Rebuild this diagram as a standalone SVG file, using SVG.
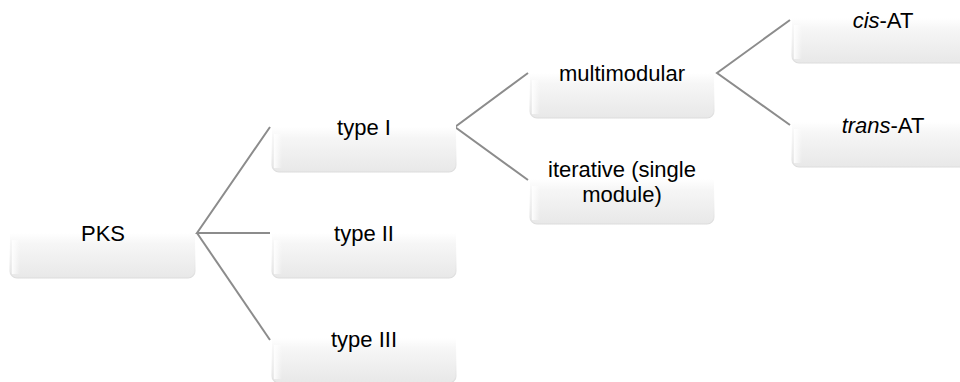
<svg xmlns="http://www.w3.org/2000/svg" width="960" height="382" viewBox="0 0 960 382">
  <defs>
    <linearGradient id="boxFill" x1="0" y1="0" x2="0" y2="1">
      <stop offset="0" stop-color="#ffffff"/>
      <stop offset="0.5" stop-color="#ffffff"/>
      <stop offset="0.62" stop-color="#f6f6f6"/>
      <stop offset="1" stop-color="#e8e8e8"/>
    </linearGradient>
    <linearGradient id="boxEdge" x1="0" y1="0" x2="0" y2="1">
      <stop offset="0" stop-color="#ffffff" stop-opacity="0"/>
      <stop offset="0.55" stop-color="#ffffff" stop-opacity="0"/>
      <stop offset="1" stop-color="#dcdcdc" stop-opacity="1"/>
    </linearGradient>
    <linearGradient id="sideGlow" x1="0" y1="0" x2="1" y2="0">
      <stop offset="0" stop-color="#ffffff" stop-opacity="0.9"/>
      <stop offset="1" stop-color="#ffffff" stop-opacity="0"/>
    </linearGradient>
  </defs>
  <style>
    .box { fill: url(#boxFill); stroke: url(#boxEdge); stroke-width: 1.2; }
    .glow { fill: url(#sideGlow); }
    .lbl { font-family: "Liberation Sans", Arial, sans-serif; font-size: 22px; fill: #000000; text-anchor: middle; }
    .conn { stroke: #8c8c8c; stroke-width: 2; fill: none; }
  </style>
  <rect width="960" height="382" fill="#ffffff"/>

  <g id="connectors">
    <polyline class="conn" points="270,127 197,233 270,233"/>
    <polyline class="conn" points="197,233 270,340"/>
    <polyline class="conn" points="528,73 455,127 528,180"/>
    <polyline class="conn" points="790,20 717,73 790,125"/>
  </g>

  <g id="node-pks">
    <rect class="box" x="10" y="188" width="185" height="90" rx="7"/>
    <rect class="glow" x="12" y="240" width="8" height="34"/>
    <text class="lbl" x="103" y="241">PKS</text>
  </g>
  <g id="node-type1">
    <rect class="box" x="272" y="82" width="184" height="90" rx="7"/>
    <rect class="glow" x="274" y="134" width="8" height="34"/>
    <text class="lbl" x="364" y="135">type I</text>
  </g>
  <g id="node-type2">
    <rect class="box" x="272" y="188" width="184" height="90" rx="7"/>
    <rect class="glow" x="274" y="240" width="8" height="34"/>
    <text class="lbl" x="364" y="241">type II</text>
  </g>
  <g id="node-type3">
    <rect class="box" x="272" y="293" width="184" height="90" rx="7"/>
    <rect class="glow" x="274" y="345" width="8" height="34"/>
    <text class="lbl" x="364" y="347">type III</text>
  </g>
  <g id="node-multimodular">
    <rect class="box" x="530" y="28" width="184" height="90" rx="7"/>
    <rect class="glow" x="532" y="80" width="8" height="34"/>
    <text class="lbl" x="622" y="81">multimodular</text>
  </g>
  <g id="node-iterative">
    <rect class="box" x="530" y="134" width="184" height="90" rx="7"/>
    <rect class="glow" x="532" y="186" width="8" height="34"/>
    <text class="lbl" x="622" y="177">iterative (single</text>
    <text class="lbl" x="622" y="202">module)</text>
  </g>
  <g id="node-cis">
    <rect class="box" x="792" y="-27" width="185" height="90" rx="7"/>
    <rect class="glow" x="794" y="25" width="8" height="34"/>
    <text class="lbl" x="883" y="28"><tspan font-style="italic">cis</tspan>-AT</text>
  </g>
  <g id="node-trans">
    <rect class="box" x="792" y="77" width="185" height="90" rx="7"/>
    <rect class="glow" x="794" y="129" width="8" height="34"/>
    <text class="lbl" x="883" y="133"><tspan font-style="italic">trans</tspan>-AT</text>
  </g>
</svg>
